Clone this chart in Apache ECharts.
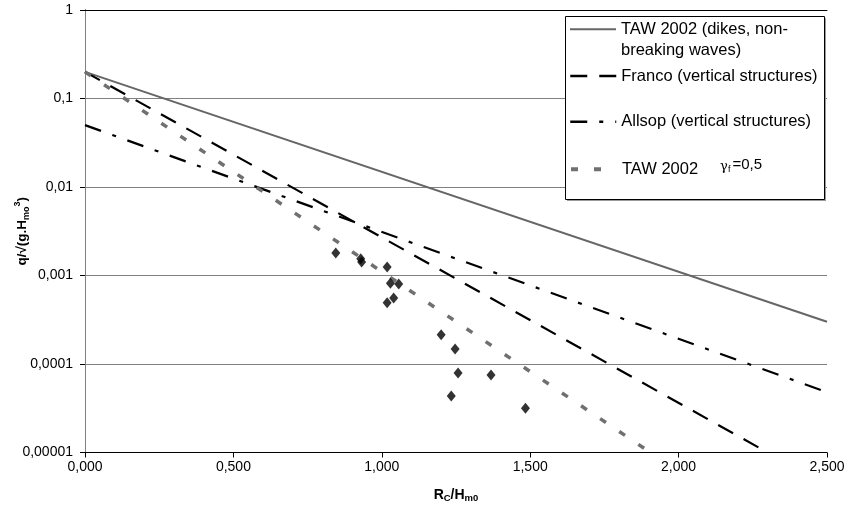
<!DOCTYPE html>
<html><head><meta charset="utf-8">
<script src="https://cdn.jsdelivr.net/npm/echarts@6/dist/echarts.min.js"></script>
<style>html,body{margin:0;padding:0;background:#fff}#c{width:848px;height:509px}</style>
</head><body><div id="c"></div>
<script>
// ---- data ----
const xTickLabels = ['0,000','0,500','1,000','1,500','2,000','2,500'];
const yTickLabels = ['0,00001','0,0001','0,001','0,01','0,1','1'];
const seriesNames = ['TAW 2002 (dikes, non-breaking waves)', 'Franco (vertical structures)', 'Allsop (vertical structures)', 'TAW 2002 γf=0,5', 'Measurements'];
const tawX = [0, 2.5];       const tawY = [0.2, 0.0003];
const francoX = [0, 2.3];    const francoY = [0.2, 0.00001];
const allsopX = [0, 2.5];    const allsopY = [0.05, 0.000048];
const taw05X = [0, 1.905];   const taw05Y = [0.2, 0.00001];
const measX = [0.845, 0.929, 0.932, 1.018, 1.029, 1.057, 1.040, 1.018, 1.200, 1.247, 1.257, 1.368, 1.234, 1.484];
const measY = [0.00180, 0.00155, 0.00142, 0.00125, 0.00082, 0.00080, 0.000556, 0.000493, 0.000214, 0.000148, 0.0000789, 0.0000749, 0.0000434, 0.0000317];

const zip = (a, b) => a.map((v, i) => [v, b[i]]);
const FONT = 'Liberation Sans, Arial, sans-serif';
const chart = echarts.init(document.getElementById('c'), null, {renderer: 'canvas'});

function legendCfg(name, top, line, fmt, extra) {
  return Object.assign({
    data: [{name: name}],
    orient: 'vertical', left: 569, top: top, padding: 0,
    itemWidth: 46, itemHeight: 14, selectedMode: false,
    itemStyle: {opacity: 0, borderWidth: 0},
    lineStyle: line,
    formatter: fmt,
    textStyle: {fontFamily: FONT, fontSize: 16.5, color: '#000', lineHeight: 21}
  }, extra || {});
}

const option = {
  animation: false,
  backgroundColor: '#fff',
  grid: {left: 85, right: 21, top: 10, bottom: 56.5, containLabel: false, outerBoundsMode: 'none'},
  xAxis: [{
    type: 'value', min: 0, max: 2.5, interval: 0.5,
    name: '{b|R}{s|C}{b|/H}{s|m0}', nameLocation: 'middle', nameGap: 35, nameMoveOverlap: false,
    nameTextStyle: {rich: {
      b: {fontFamily: FONT, fontSize: 14, fontWeight: 'bold', color: '#000', lineHeight: 16},
      s: {fontFamily: FONT, fontSize: 9.5, fontWeight: 'bold', color: '#000', lineHeight: 9, verticalAlign: 'bottom'}
    }},
    axisLine: {show: true, lineStyle: {color: '#000', width: 1}},
    axisTick: {show: true, inside: false, length: 5, lineStyle: {color: '#000'}},
    axisLabel: {fontFamily: FONT, fontSize: 14, color: '#000', margin: 8,
      formatter: v => xTickLabels[Math.round(v / 0.5)]},
    splitLine: {show: false}
  }, {
    type: 'value', min: 0, max: 2.5, position: 'top',
    axisLine: {show: true, lineStyle: {color: '#000', width: 1}},
    axisTick: {show: false}, axisLabel: {show: false}, splitLine: {show: false}
  }],
  yAxis: [{
    type: 'log', logBase: 10, min: 0.00001, max: 1,
    name: '{b|q/√(g.H}{s|mo}{p|3}{b|)}', nameLocation: 'middle', nameGap: 54, nameMoveOverlap: false,
    nameTextStyle: {rich: {
      b: {fontFamily: FONT, fontSize: 13.5, fontWeight: 'bold', color: '#000', lineHeight: 18},
      s: {fontFamily: FONT, fontSize: 9, fontWeight: 'bold', color: '#000', lineHeight: 10, verticalAlign: 'bottom'},
      p: {fontFamily: FONT, fontSize: 9, fontWeight: 'bold', color: '#000', lineHeight: 10, verticalAlign: 'top'}
    }},
    axisLine: {show: true, lineStyle: {color: '#000', width: 1}},
    axisTick: {show: true, inside: false, length: 5, lineStyle: {color: '#000'}},
    axisLabel: {fontFamily: FONT, fontSize: 14, color: '#000', margin: 12,
      formatter: v => yTickLabels[Math.round(Math.log10(v)) + 5]},
    splitLine: {show: true, lineStyle: {color: '#808080', width: 1}}
  }, {
    type: 'log', logBase: 10, min: 0.00001, max: 1, position: 'right',
    axisLine: {show: true, lineStyle: {color: '#808080', width: 1}},
    axisTick: {show: false}, axisLabel: {show: false}, splitLine: {show: false}
  }],
  graphic: [
    {type: 'rect', z: 3, shape: {x: 567, y: 18, width: 259, height: 183}, style: {fill: '#9a9a9a'}},
    {type: 'rect', z: 3, shape: {x: 565.5, y: 16.5, width: 259, height: 183}, style: {fill: '#fff', stroke: '#000', lineWidth: 1}}
  ],
  legend: [
    legendCfg(seriesNames[0], -2.2, {width: 2, type: 'solid', color: '#666'},
      () => ' \nTAW 2002 (dikes, non-\nbreaking waves)'),
    legendCfg(seriesNames[1], 65.5, {width: 2.5, type: [17, 12], color: '#000'}, n => n),
    legendCfg(seriesNames[2], 111.2, {width: 2.5, type: [17, 12, 4, 12], color: '#000'}, n => n),
    legendCfg(seriesNames[3], 157.8, {width: 4, type: [7, 16], color: '#707070'},
      () => '{a|TAW 2002}{g|γ}{f|f}{b|=0,5}',
      {textStyle: {fontFamily: FONT, fontSize: 16.5, color: '#000', lineHeight: 21, rich: {
        a: {fontFamily: FONT, fontSize: 16.5, color: '#000', lineHeight: 21},
        g: {fontFamily: 'DejaVu Serif, serif', fontSize: 13, color: '#000', lineHeight: 21, padding: [0, 0, 6, 22]},
        f: {fontFamily: FONT, fontSize: 9, color: '#000', lineHeight: 21},
        b: {fontFamily: FONT, fontSize: 15, color: '#000', lineHeight: 21, padding: [0, 0, 8, 2]}
      }}})
  ],
  series: [
    {name: seriesNames[0], type: 'line', data: zip(tawX, tawY), symbol: 'none', z: 2,
     lineStyle: {color: '#666', width: 2}, itemStyle: {color: '#666'}},
    {name: seriesNames[1], type: 'line', data: zip(francoX, francoY), symbol: 'none', z: 2,
     lineStyle: {color: '#000', width: 2.2, type: [17, 12]}, itemStyle: {color: '#000'}},
    {name: seriesNames[2], type: 'line', data: zip(allsopX, allsopY), symbol: 'none', z: 2,
     lineStyle: {color: '#000', width: 2.2, type: [17, 12, 4, 12]}, itemStyle: {color: '#000'}},
    {name: seriesNames[3], type: 'line', data: zip(taw05X, taw05Y), symbol: 'none', z: 2,
     lineStyle: {color: '#707070', width: 3.5, type: [7, 16]}, itemStyle: {color: '#707070'}},
    {name: seriesNames[4], type: 'scatter', data: zip(measX, measY), symbol: 'diamond', symbolSize: [9, 11], z: 5,
     itemStyle: {color: '#000'}}
  ]
};
chart.setOption(option);
</script></body></html>
